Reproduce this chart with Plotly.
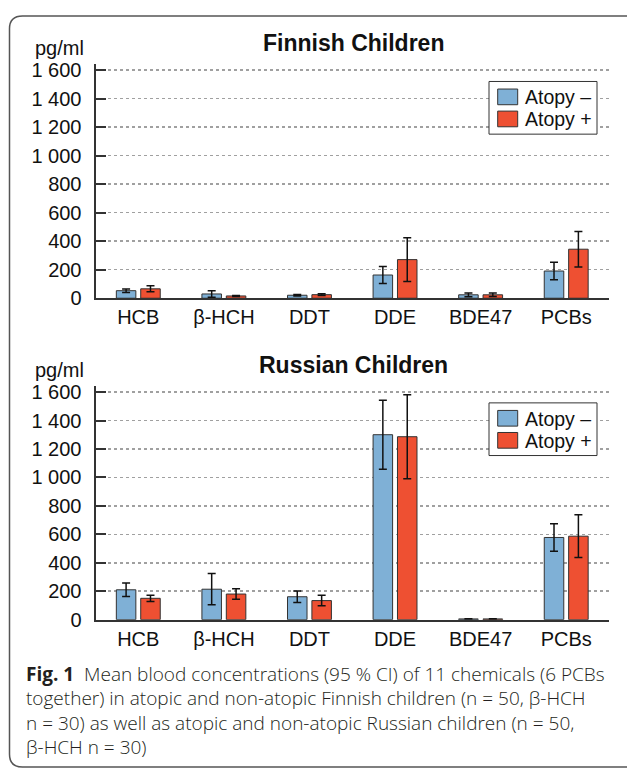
import plotly.graph_objects as go

categories = ["HCB", "β-HCH", "DDT", "DDE", "BDE47", "PCBs"]

fin_neg = [53, 30, 21, 163, 24, 191]
fin_neg_err = [12, 23, 5, 60, 13, 61]
fin_pos = [66, 16, 25, 271, 24, 344]
fin_pos_err = [21, 4, 6, 154, 12, 125]

rus_neg = [210, 214, 161, 1301, 5, 578]
rus_neg_err = [48, 110, 40, 243, 1, 97]
rus_pos = [150, 180, 134, 1287, 5, 587]
rus_pos_err = [22, 37, 37, 295, 1, 150]

y_tickvals = [0, 200, 400, 600, 800, 1000, 1200, 1400, 1600]
y_ticktext = ["0", "200", "400", "600", "800", "1 000", "1 200", "1 400", "1 600"]

series_names = ["Atopy –", "Atopy +"]
panel_titles = ["Finnish Children", "Russian Children"]
unit_label = "pg/ml"
caption_lines = [
    "<b>Fig. 1</b>  Mean blood concentrations (95 % CI) of 11 chemicals (6 PCBs",
    "together) in atopic and non-atopic Finnish children (n = 50, β-HCH",
    "n = 30) as well as atopic and non-atopic Russian children (n = 50,",
    "β-HCH n = 30)",
]

BLUE = "#7fb0d6"
RED = "#ee5032"
EDGE = "#333333"
FONT = "Liberation Sans, Arial, sans-serif"

W, H = 627, 780


def px_x(p):
    return p / W


def px_y(p):
    return 1 - p / H


fig = go.Figure()

panels = [
    ("x", "y", fin_neg, fin_neg_err, fin_pos, fin_pos_err),
    ("x2", "y2", rus_neg, rus_neg_err, rus_pos, rus_pos_err),
]

for xa, ya, neg, negerr, pos, poserr in panels:
    for vals, errs, color, name in [(neg, negerr, BLUE, series_names[0]),
                                    (pos, poserr, RED, series_names[1])]:
        fig.add_trace(go.Bar(
            x=categories, y=vals, name=name, xaxis=xa, yaxis=ya,
            marker=dict(color=color, line=dict(color=EDGE, width=1)),
            error_y=dict(type="data", array=errs, visible=True,
                         color="#111111", thickness=1.5, width=4),
            showlegend=False,
        ))

xdom = [px_x(95.5), px_x(609)]
common_x = dict(domain=xdom, range=[-0.5, 5.5], showline=True, linecolor=EDGE,
                linewidth=2, ticks="", tickfont=dict(size=20, color="#111", family=FONT),
                showgrid=False, zeroline=False, fixedrange=True)
common_y = dict(range=[0, 1645], showline=True, linecolor=EDGE, linewidth=2,
                ticks="inside", ticklen=10, tickwidth=2, tickcolor=EDGE,
                tickvals=y_tickvals, ticktext=y_ticktext,
                tickfont=dict(size=20, color="#111", family=FONT),
                ticklabelstandoff=8,
                showgrid=True, gridcolor="#a0a0a0", gridwidth=1.5, griddash="dot",
                zeroline=False, fixedrange=True)

fig.update_layout(
    width=W, height=H,
    margin=dict(l=0, r=0, t=0, b=0),
    paper_bgcolor="white", plot_bgcolor="white",
    barmode="group", bargap=0.43, bargroupgap=0.2,
    font=dict(family=FONT, color="#111"),
    showlegend=False,
    hovermode=False,
    xaxis=dict(**common_x, anchor="y"),
    yaxis=dict(**common_y, domain=[px_y(300), px_y(61)], anchor="x"),
    xaxis2=dict(**common_x, anchor="y2"),
    yaxis2=dict(**common_y, domain=[px_y(627.7), px_y(389.3)], anchor="x2"),
)

# titles and unit labels
for i, dy in enumerate([0, 327.7]):
    fig.add_annotation(xref="paper", yref="paper", showarrow=False,
                       x=px_x(353), y=px_y(40 + dy), xanchor="center",
                       yanchor="middle", text=f"<b>{panel_titles[i]}</b>",
                       font=dict(size=23, family=FONT, color="#111"))
    fig.add_annotation(xref="paper", yref="paper", showarrow=False,
                       x=px_x(33), y=px_y(45 + dy), xanchor="left",
                       yanchor="middle", text=unit_label,
                       font=dict(size=20, family=FONT, color="#111"))

    # custom legend (box, swatches, labels)
    fig.add_shape(type="rect", xref="paper", yref="paper",
                  x0=px_x(489), x1=px_x(597), y0=px_y(132.7 + dy), y1=px_y(79 + dy),
                  line=dict(color=EDGE, width=1), fillcolor="white", layer="above")
    for k, (name, color) in enumerate(zip(series_names, [BLUE, RED])):
        top = 86.7 + dy + k * 22.5
        fig.add_shape(type="rect", xref="paper", yref="paper",
                      x0=px_x(497.7), x1=px_x(517.7), y0=px_y(top + 16), y1=px_y(top),
                      line=dict(color=EDGE, width=1), fillcolor=color, layer="above")
        fig.add_annotation(xref="paper", yref="paper", showarrow=False,
                           x=px_x(523), y=px_y(top + 8.5), xanchor="left",
                           yanchor="middle", text=name,
                           font=dict(size=19.5, family=FONT, color="#111"))

# caption
for k, line in enumerate(caption_lines):
    fig.add_annotation(xref="paper", yref="paper", showarrow=False,
                       x=px_x(24), y=px_y(683 + k * 25), xanchor="left", yanchor="middle",
                       align="left", text=line,
                       font=dict(size=19, family="Open Sans, Noto Sans, sans-serif",
                                 color="#231f20", weight=300))

# rounded border box (right side extends beyond the page)
x0, yt, yb = px_x(9.5), px_y(12.3), px_y(778)
rx, ry = 13 / W, 13 / H
path = (f"M {x0},{yb + ry} L {x0},{yt - ry} Q {x0},{yt} {x0 + rx},{yt} "
        f"L 1.05,{yt} M {x0},{yb + ry} Q {x0},{yb} {x0 + rx},{yb} L 1.05,{yb}")
fig.add_shape(type="path", xref="paper", yref="paper", path=path,
              line=dict(color="#555555", width=1.5))

fig.write_html(
    "out.html",
    config={"displayModeBar": False, "staticPlot": True},
    post_script="document.documentElement.style.margin='0';"
                "document.body.style.margin='0';"
                "document.body.style.overflow='hidden';",
)
